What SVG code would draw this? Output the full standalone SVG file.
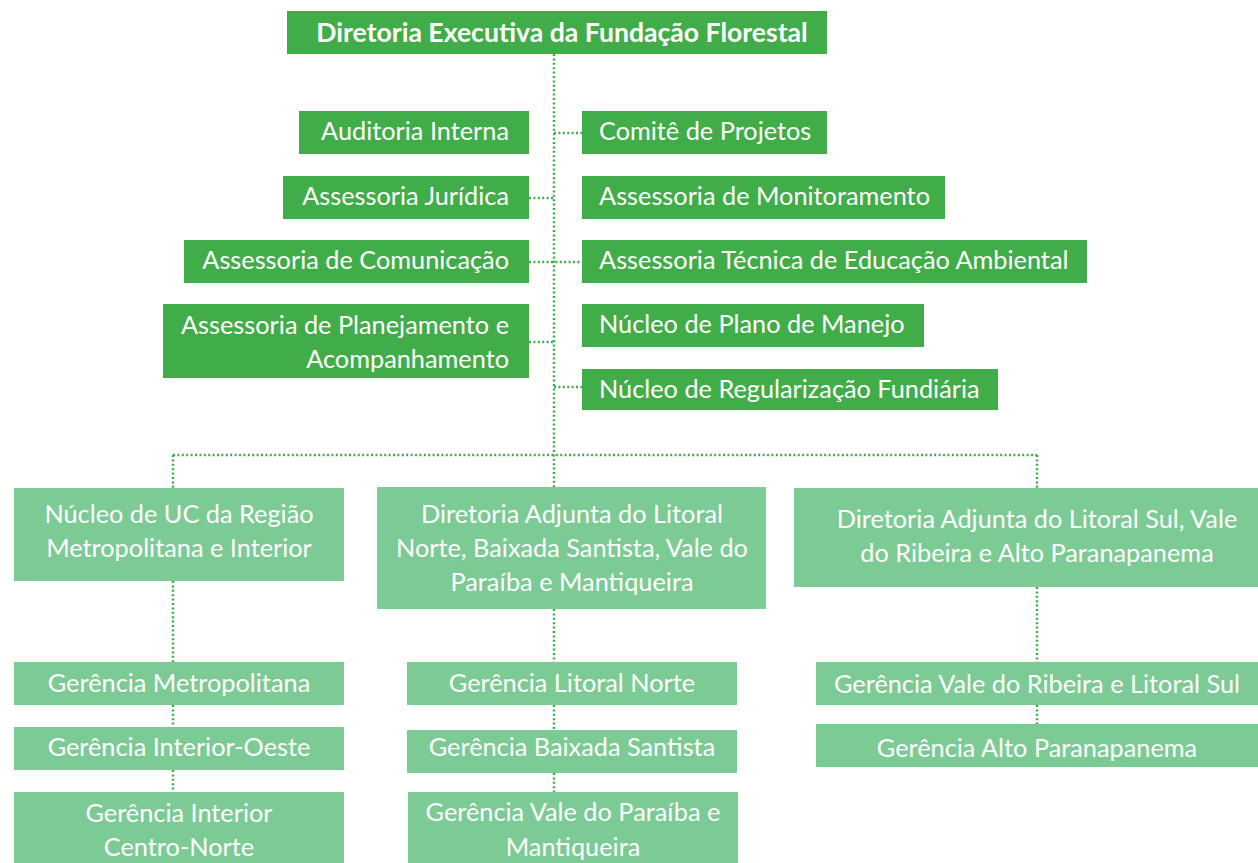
<svg xmlns="http://www.w3.org/2000/svg" width="1258" height="863" viewBox="0 0 1258 863">
<style>
.d{fill:#41ad49}
.l{fill:#7ccb95}
text{font-family:Lato,"Open Sans",sans-serif;font-size:25.3px;fill:#fff}
.b{font-weight:bold;font-size:26.6px}
.r{text-anchor:end}
.c{text-anchor:middle}
.conn path{fill:none;stroke:#41ad49;stroke-width:2.5;stroke-dasharray:2 2.4}
</style>
<rect width="1258" height="863" fill="#fff"/>
<g class="conn">
<path d="M554 54V487"/>
<path d="M554 133H582"/>
<path d="M529 198H554"/>
<path d="M529 262H582"/>
<path d="M529 342H554"/>
<path d="M554 387H582"/>
<path d="M173 455H1037"/>
<path d="M173 455V488"/>
<path d="M1037 455V488"/>
<path d="M173 581V662M173 705V727M173 770V792"/>
<path d="M554 609V662M554 705V730M554 773V792"/>
<path d="M1037 587V662M1037 705V724"/>
</g>
<g id="n-diretoria"><rect class="d" x="287" y="11" width="540" height="43"/><text class="b c" x="562" y="42">Diretoria Executiva da Fundação Florestal</text></g>
<g id="n-auditoria"><rect class="d" x="299" y="111" width="230" height="43"/><text class="r" x="509" y="140">Auditoria Interna</text></g>
<g id="n-juridica"><rect class="d" x="283" y="176" width="246" height="43"/><text class="r" x="509" y="205">Assessoria Jurídica</text></g>
<g id="n-comunicacao"><rect class="d" x="184" y="240" width="345" height="43"/><text class="r" x="509" y="269">Assessoria de Comunicação</text></g>
<g id="n-planejamento"><rect class="d" x="163" y="304" width="366" height="74"/><text class="r" x="509" y="334">Assessoria de Planejamento e</text><text class="r" x="509" y="368">Acompanhamento</text></g>
<g id="n-comite"><rect class="d" x="582" y="111" width="245" height="43"/><text x="599" y="140">Comitê de Projetos</text></g>
<g id="n-monitoramento"><rect class="d" x="582" y="176" width="363" height="43"/><text x="599" y="205">Assessoria de Monitoramento</text></g>
<g id="n-educacao"><rect class="d" x="582" y="240" width="505" height="43"/><text x="599" y="269">Assessoria Técnica de Educação Ambiental</text></g>
<g id="n-manejo"><rect class="d" x="582" y="304" width="342" height="43"/><text x="599" y="333">Núcleo de Plano de Manejo</text></g>
<g id="n-fundiaria"><rect class="d" x="582" y="369" width="416" height="41"/><text x="599" y="398">Núcleo de Regularização Fundiária</text></g>
<g id="n-nucleo-uc"><rect class="l" x="14" y="488" width="330" height="93"/><text class="c" x="179" y="523">Núcleo de UC da Região</text><text class="c" x="179" y="557">Metropolitana e Interior</text></g>
<g id="n-adj-norte"><rect class="l" x="377" y="487" width="389" height="122"/><text class="c" x="572" y="523">Diretoria Adjunta do Litoral</text><text class="c" x="572" y="557">Norte, Baixada Santista, Vale do</text><text class="c" x="572" y="591">Paraíba e Mantiqueira</text></g>
<g id="n-adj-sul"><rect class="l" x="794" y="488" width="464" height="99"/><text class="c" x="1037" y="528">Diretoria Adjunta do Litoral Sul, Vale</text><text class="c" x="1037" y="562">do Ribeira e Alto Paranapanema</text></g>
<g id="n-g-metro"><rect class="l" x="14" y="662" width="330" height="43"/><text class="c" x="179" y="692">Gerência Metropolitana</text></g>
<g id="n-g-oeste"><rect class="l" x="14" y="727" width="330" height="43"/><text class="c" x="179" y="756">Gerência Interior-Oeste</text></g>
<g id="n-g-centro"><rect class="l" x="14" y="792" width="330" height="71"/><text class="c" x="179" y="822">Gerência Interior</text><text class="c" x="179" y="856">Centro-Norte</text></g>
<g id="n-g-litnorte"><rect class="l" x="407" y="662" width="330" height="43"/><text class="c" x="572" y="692">Gerência Litoral Norte</text></g>
<g id="n-g-baixada"><rect class="l" x="407" y="730" width="330" height="43"/><text class="c" x="572" y="756">Gerência Baixada Santista</text></g>
<g id="n-g-paraiba"><rect class="l" x="408" y="792" width="330" height="71"/><text class="c" x="573" y="821">Gerência Vale do Paraíba e</text><text class="c" x="573" y="856">Mantiqueira</text></g>
<g id="n-g-ribeira"><rect class="l" x="816" y="662" width="442" height="43"/><text class="c" x="1037" y="693">Gerência Vale do Ribeira e Litoral Sul</text></g>
<g id="n-g-alto"><rect class="l" x="816" y="724" width="442" height="43"/><text class="c" x="1037" y="757">Gerência Alto Paranapanema</text></g>
</svg>
